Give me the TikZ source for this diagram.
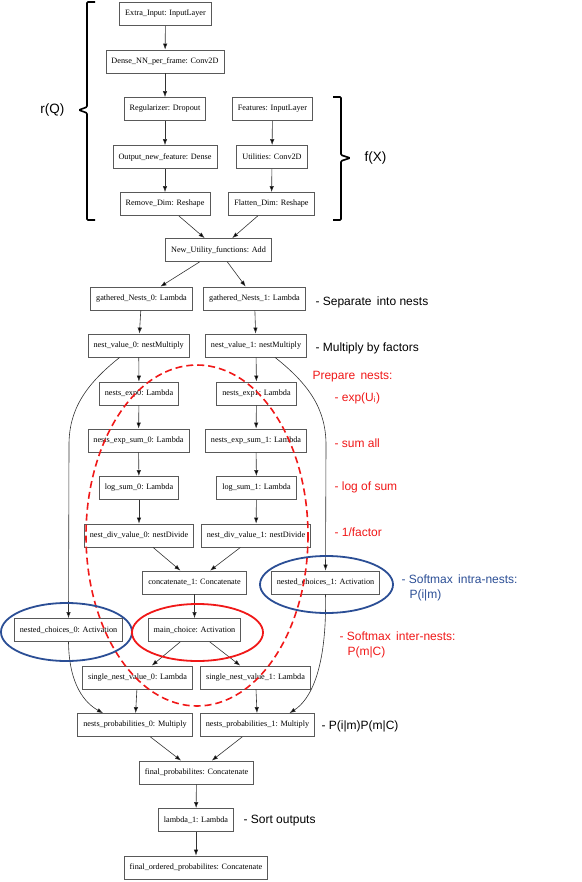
\documentclass[tikz,border=0pt]{standalone}
\usepackage{fontspec}
\setmainfont{Liberation Serif}
\newfontfamily\notefont{Liberation Sans}
\usetikzlibrary{arrows.meta}
\definecolor{nestblue}{HTML}{2B4E95}
\definecolor{nestred}{HTML}{F01818}
\tikzset{
  layer/.style={draw=black!65, line width=0.8pt, font=\fontsize{8.2}{10}\selectfont, inner xsep=5.5pt, minimum height=23pt},
  flow/.style={draw=black!80, line width=0.6pt, -{Latex[length=6pt,width=4.4pt,fill=black]}},
  note/.style={font=\notefont\fontsize{12}{15}\selectfont, anchor=west, align=left},
  brack/.style={line width=1.6pt, rounded corners=1pt}
}
\begin{document}
\begin{tikzpicture}[x=1pt,y=-1pt]
\useasboundingbox (0,0) rectangle (581,882);

\node[layer] (ei) at (165.5,14) {Extra\_Input: InputLayer};
\node[layer] (dnn) at (165,61.5) {Dense\_NN\_per\_frame: Conv2D};
\node[layer] (reg) at (165,109) {Regularizer: Dropout};
\node[layer] (feat) at (272.5,109) {Features: InputLayer};
\node[layer] (onf) at (165,157) {Output\_new\_feature: Dense};
\node[layer] (util) at (272,157) {Utilities: Conv2D};
\node[layer] (rmd) at (165,204) {Remove\_Dim: Reshape};
\node[layer] (fld) at (271.5,204) {Flatten\_Dim: Reshape};
\node[layer] (nuf) at (218.5,250) {New\_Utility\_functions: Add};
\node[layer] (gn0) at (141.5,298.5) {gathered\_Nests\_0: Lambda};
\node[layer] (gn1) at (254.5,298.5) {gathered\_Nests\_1: Lambda};
\node[layer] (nv0) at (138.7,345.5) {nest\_value\_0: nestMultiply};
\node[layer] (nv1) at (256,345.5) {nest\_value\_1: nestMultiply};
\node[layer] (ne0) at (139,393.5) {nests\_exp0: Lambda};
\node[layer] (ne1) at (256.5,393.5) {nests\_exp1: Lambda};
\node[layer] (nes0) at (138.5,440.5) {nests\_exp\_sum\_0: Lambda};
\node[layer] (nes1) at (256,440.5) {nests\_exp\_sum\_1: Lambda};
\node[layer] (ls0) at (139,488) {log\_sum\_0: Lambda};
\node[layer] (ls1) at (256.5,488) {log\_sum\_1: Lambda};
\node[layer] (nd0) at (139,535.5) {nest\_div\_value\_0: nestDivide};
\node[layer] (nd1) at (256,535.5) {nest\_div\_value\_1: nestDivide};
\node[layer] (cat) at (194.5,582.5) {concatenate\_1: Concatenate};
\node[layer] (nc1) at (325.5,582.5) {nested\_choices\_1: Activation};
\node[layer] (nc0) at (68.5,630) {nested\_choices\_0: Activation};
\node[layer] (mc) at (194.5,630) {main\_choice: Activation};
\node[layer] (snv0) at (137.5,677.5) {single\_nest\_value\_0: Lambda};
\node[layer] (snv1) at (255.5,677.5) {single\_nest\_value\_1: Lambda};
\node[layer] (np0) at (135,725) {nests\_probabilities\_0: Multiply};
\node[layer] (np1) at (257.5,725) {nests\_probabilities\_1: Multiply};
\node[layer] (fp) at (196.5,772.5) {final\_probabilites: Concatenate};
\node[layer] (lam) at (196,820) {lambda\_1: Lambda};
\node[layer] (fop) at (196,867.5) {final\_ordered\_probabilites: Concatenate};

\draw[flow] (ei) -- (dnn);
\draw[flow] (dnn) -- (reg);
\draw[flow] (reg) -- (onf);
\draw[flow] (onf) -- (rmd);
\draw[flow] (feat) -- (util);
\draw[flow] (util) -- (fld);
\draw[flow] (rmd) -- (nuf);
\draw[flow] (fld) -- (nuf);
\draw[flow] (nuf) -- (gn0);
\draw[flow] (nuf) -- (gn1);
\draw[flow] (gn0) -- (nv0);
\draw[flow] (gn1) -- (nv1);
\draw[flow] (nv0) -- (ne0);
\draw[flow] (nv1) -- (ne1);
\draw[flow] (ne0) -- (nes0);
\draw[flow] (ne1) -- (nes1);
\draw[flow] (nes0) -- (ls0);
\draw[flow] (nes1) -- (ls1);
\draw[flow] (ls0) -- (nd0);
\draw[flow] (ls1) -- (nd1);
\draw[flow] (nd0) -- (cat);
\draw[flow] (nd1) -- (cat);
\draw[flow] (cat) -- (mc);
\draw[flow] (mc) -- (snv0);
\draw[flow] (mc) -- (snv1);
\draw[flow] (snv0) -- (np0);
\draw[flow] (snv1) -- (np1);
\draw[flow] (np0) -- (fp);
\draw[flow] (np1) -- (fp);
\draw[flow] (fp) -- (lam);
\draw[flow] (lam) -- (fop);
\draw[flow] ([xshift=-19pt]nv0.south) .. controls (85,385) and (69,410) .. (69,445) -- (nc0.north);
\draw[flow] ([xshift=19pt]nv1.south) .. controls (310,385) and (326,410) .. (326,445) -- (nc1.north);
\draw[flow] (nc0.south) .. controls (69,685) and (85,703) .. ([xshift=-32pt]np0.north);
\draw[flow] (nc1.south) .. controls (327,670) and (310,700) .. ([xshift=32pt]np1.north);

\draw[brack] (95,2) -- (87,2) -- (87,107) -- (79,110) -- (87,113) -- (87,220) -- (95,220);
\draw[brack] (333,97) -- (341,97) -- (341,155) -- (350,158) -- (341,161) -- (341,220) -- (333,220);
\node[note, anchor=east, font=\notefont\fontsize{13.5}{15}\selectfont] (rq) at (68,110) {r(Q)};
\node[note, font=\notefont\fontsize{13.5}{15}\selectfont] (fx) at (361,158) {f(X)};

\draw[nestred, dashed, line width=1.6pt, dash pattern=on 7pt off 4pt] (197,535.5) ellipse [x radius=111, y radius=170.5];
\draw[nestblue, line width=1.8pt] (326.5,584.5) ellipse [x radius=66.5, y radius=28.5];
\draw[nestblue, line width=1.8pt] (66.5,632) ellipse [x radius=65.5, y radius=29];
\draw[nestred, line width=1.8pt] (197.5,632.5) ellipse [x radius=65.5, y radius=28.5];

\node[note] (sep) at (312,302) {- Separate\, into nests};
\node[note] (mul) at (312,348) {- Multiply by factors};
\node[note, text=nestred] (prep) at (309,377) {Prepare\, nests:};
\node[note, text=nestred] (expu) at (331,398) {- exp(U\textsubscript{i})};
\node[note, text=nestred] (sall) at (331,443) {- sum all};
\node[note, text=nestred] (lsum) at (331,487) {- log of sum};
\node[note, text=nestred] (fac) at (331,532) {- 1/factor};
\node[note, text=nestblue] (intra) at (398,587.5) {- Softmax\, intra-nests:\\\hspace{8pt}P(i|m)};
\node[note, text=nestred] (inter) at (336,644.5) {- Softmax\, inter-nests:\\\hspace{8pt}P(m|C)};
\node[note] (prob) at (318,726) {- P(i|m)P(m|C)};
\node[note] (sort) at (240,821) {- Sort outputs};
\end{tikzpicture}
\end{document}
